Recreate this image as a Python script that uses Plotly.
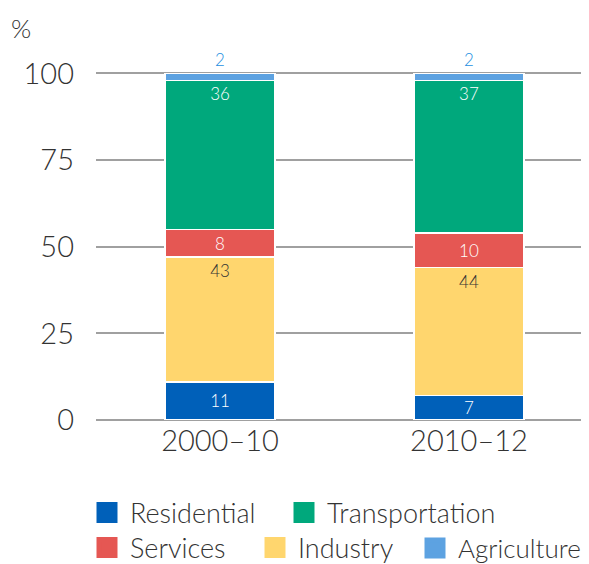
import plotly.graph_objects as go

categories = ["2000–10", "2010–12"]

# segment heights as drawn (share of total, %)
residential = [11, 7]
industry = [36, 37]
services = [8, 10]
transportation = [43, 44]
agriculture = [2, 2]

# labels as printed in the reference
residential_lbl = ["11", "7"]
industry_lbl = ["43", "44"]
services_lbl = ["8", "10"]
transportation_lbl = ["36", "37"]
agriculture_lbl = ["2", "2"]

y_ticks = [0, 25, 50, 75, 100]

FONT = "Lato, 'Open Sans', sans-serif"
TXT = "#333333"

series = [
    ("Residential", residential, residential_lbl, "#0060B9", "middle", "inside", "#FFFFFF"),
    ("Industry", industry, industry_lbl, "#FFD66E", "end", "inside", "#333333"),
    ("Services", services, services_lbl, "#E55753", "middle", "inside", "#FFFFFF"),
    ("Transportation", transportation, transportation_lbl, "#00A87C", "end", "inside", "#FFFFFF"),
    ("Agriculture", agriculture, agriculture_lbl, "#5DA2E1", "end", "outside", "#1E8FE1"),
]

fig = go.Figure()
for name, vals, lbls, col, anchor, pos, tcol in series:
    fig.add_trace(go.Bar(
        x=categories, y=vals, name=name, text=lbls,
        textposition=pos, insidetextanchor=anchor,
        textfont=dict(family=FONT, size=17, color=tcol),
        textangle=0,
        marker=dict(color=col, line=dict(color="white", width=1.5)),
        width=0.44, showlegend=False, cliponaxis=False,
    ))

colors = {s[0]: s[3] for s in series}
# one legend per entry: (legend id, name, left px, row centre px, font size)
legend_items = [
    ("legend", "Residential", 76, 505, 27),
    ("legend2", "Transportation", 273, 505, 27),
    ("legend3", "Services", 76, 540, 27),
    ("legend4", "Industry", 244, 540, 27),
    ("legend5", "Agriculture", 404, 540, 26),
]
legend_layout = {}
for lg, n, lx, ly, fs in legend_items:
    fig.add_trace(go.Scatter(
        x=[categories[0]], y=[None], mode="markers", name=n, legend=lg,
        marker=dict(symbol="square", size=16, color=colors[n],
                    line=dict(color=colors[n], width=5)),
        showlegend=True, hoverinfo="skip",
    ))
    legend_layout[lg] = dict(
        orientation="h", xref="container", yref="container",
        x=lx / 589, y=1 - ly / 564, xanchor="left", yanchor="middle",
        font=dict(size=fs, color=TXT, weight=300), itemwidth=36,
        bgcolor="rgba(0,0,0,0)", itemclick=False, itemdoubleclick=False,
    )

fig.update_layout(
    barmode="stack",
    width=589, height=564,
    margin=dict(l=88, r=8, t=55, b=152, autoexpand=False),
    paper_bgcolor="white", plot_bgcolor="white",
    font=dict(family=FONT, color=TXT, weight=300),
    uniformtext=dict(mode="show", minsize=17),
    xaxis=dict(
        type="category", range=[-0.498, 1.482], showgrid=False, zeroline=False,
        showline=False, ticks="", tickfont=dict(size=29, color=TXT, weight=300),
        ticklabelstandoff=1, automargin=False,
    ),
    yaxis=dict(
        range=[0, 103], tickvals=y_ticks, showgrid=True, gridcolor="#A0A0A0",
        gridwidth=1.5, zeroline=True, zerolinecolor="#A0A0A0", zerolinewidth=2,
        showline=False, ticks="", tickfont=dict(size=29, color=TXT, weight=300),
        ticklabelstandoff=21, automargin=False,
    ),
    annotations=[dict(
        text="%", xref="paper", yref="paper", x=-0.152, y=1.098, xanchor="center",
        yanchor="middle", showarrow=False, font=dict(size=26, color=TXT, weight=300),
    )],
    **legend_layout,
)

fig.write_html("out.html")
